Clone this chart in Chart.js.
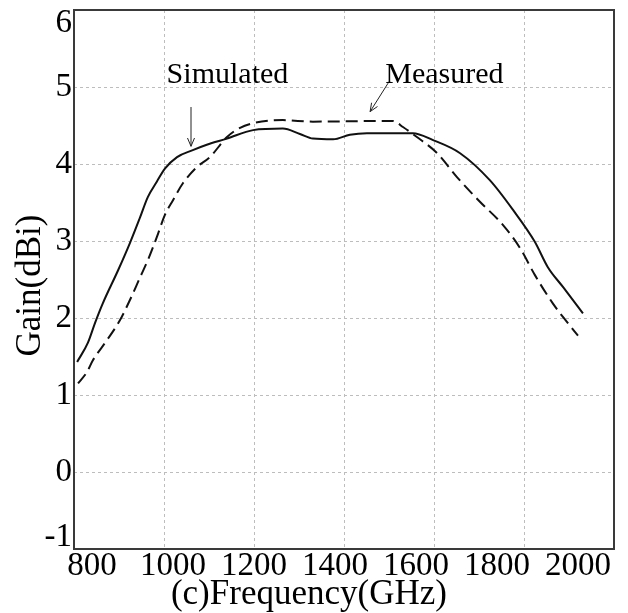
<!DOCTYPE html>
<html>
<head>
<meta charset="utf-8">
<script src="https://cdn.jsdelivr.net/npm/chart.js@4/dist/chart.umd.min.js"></script>
<style>
  body { margin: 0; background: #fff; }
  canvas { display: block; }
</style>
</head>
<body>
<canvas id="gainChart" width="628" height="613"></canvas>
<script>
// frekvens / förstärkning
const simFreq = [807, 831, 847, 864, 898, 924, 947, 964, 984, 1002, 1029, 1064, 1095, 1140, 1198, 1264, 1302, 1331, 1376, 1413, 1451, 1553, 1598, 1658, 1724, 1776, 1824, 1853, 1887, 1931];
const simGain = [1.43, 1.68, 1.94, 2.19, 2.62, 2.97, 3.31, 3.57, 3.77, 3.94, 4.09, 4.18, 4.25, 4.33, 4.44, 4.46, 4.39, 4.33, 4.32, 4.38, 4.40, 4.40, 4.31, 4.14, 3.79, 3.40, 2.99, 2.66, 2.40, 2.06];

const measFreq = [809, 829, 842, 873, 902, 924, 947, 964, 984, 1002, 1020, 1042, 1073, 1102, 1140, 1169, 1198, 1264, 1331, 1509, 1531, 1562, 1607, 1651, 1702, 1753, 1791, 1824, 1864, 1898, 1920];
const measGain = [1.15, 1.30, 1.45, 1.71, 1.97, 2.23, 2.53, 2.75, 3.05, 3.34, 3.53, 3.75, 3.96, 4.09, 4.35, 4.47, 4.53, 4.57, 4.55, 4.56, 4.48, 4.35, 4.14, 3.83, 3.51, 3.21, 2.91, 2.56, 2.19, 1.93, 1.77];

const xTicks = [800, 1000, 1200, 1400, 1600, 1800, 2000];
const yTicks = [-1, 0, 1, 2, 3, 4, 5, 6];

const xTitle = "(c)Frequency(GHz)";
const yTitle = "Gain(dBi)";

// pilar + text (i dataenheter)
const annotations = [
  { text: "Simulated", at: [1141, 5.05], from: [1060, 4.74], to: [1060, 4.23] },
  { text: "Measured", at: [1623, 5.05], from: [1498, 5.05], to: [1458, 4.68] },
];

const serif = '"Liberation Serif", "Times New Roman", serif';

const toPoints = (xs, ys) => xs.map((x, i) => ({ x: x, y: ys[i] }));

const datasets = [
  {
    label: "Simulated",
    data: toPoints(simFreq, simGain),
    borderColor: "#111",
    borderWidth: 2,
    pointRadius: 0,
    cubicInterpolationMode: "monotone",
  },
  {
    label: "Measured",
    data: toPoints(measFreq, measGain),
    borderColor: "#111",
    borderWidth: 2,
    borderDash: [12, 6],
    pointRadius: 0,
    cubicInterpolationMode: "monotone",
  },
];

function arrow(ctx, x1, y1, x2, y2) {
  const a = Math.atan2(y2 - y1, x2 - x1);
  const len = 9;
  ctx.beginPath();
  ctx.moveTo(x1, y1);
  ctx.lineTo(x2, y2);
  ctx.moveTo(x2 - len * Math.cos(a - 0.4), y2 - len * Math.sin(a - 0.4));
  ctx.lineTo(x2, y2);
  ctx.lineTo(x2 - len * Math.cos(a + 0.4), y2 - len * Math.sin(a + 0.4));
  ctx.stroke();
}

// ram, ticketiketter, axeltitlar och annoteringar
const drawExtras = {
  id: "drawExtras",
  afterDraw(chart) {
    const ctx = chart.ctx;
    const area = chart.chartArea;
    const xs = chart.scales.x;
    const ys = chart.scales.y;
    ctx.save();

    ctx.strokeStyle = "#3a3a3a";
    ctx.lineWidth = 2;
    ctx.strokeRect(area.left, area.top, area.right - area.left, area.bottom - area.top);

    ctx.fillStyle = "#000";
    ctx.font = "33px " + serif;

    // y-etiketter
    ctx.textAlign = "right";
    ctx.textBaseline = "middle";
    yTicks.forEach((v) => {
      let y = ys.getPixelForValue(v);
      y = Math.min(Math.max(y, area.top + 13), area.bottom - 12);
      ctx.fillText(String(v), area.left - 2, y);
    });

    // x-etiketter (lite hoptryckta som i originalet)
    ctx.textAlign = "center";
    xTicks.forEach((v) => {
      const px = xs.getPixelForValue(v);
      const x = area.left + 18 + (px - area.left) * 0.9;
      ctx.fillText(String(v), x, area.bottom + 17);
    });

    // axeltitlar
    ctx.font = "35px " + serif;
    ctx.textBaseline = "alphabetic";
    ctx.fillText(xTitle, area.left + (area.right - area.left) * 0.435, area.bottom + 55);

    ctx.save();
    ctx.translate(40, (area.top + area.bottom) / 2 + 6);
    ctx.rotate(-Math.PI / 2);
    ctx.textAlign = "center";
    ctx.fillText(yTitle, 0, 0);
    ctx.restore();

    // annoteringar
    ctx.font = "30px " + serif;
    ctx.strokeStyle = "#222";
    ctx.lineWidth = 1;
    annotations.forEach((a) => {
      ctx.fillText(a.text, xs.getPixelForValue(a.at[0]), ys.getPixelForValue(a.at[1]));
      arrow(
        ctx,
        xs.getPixelForValue(a.from[0]), ys.getPixelForValue(a.from[1]),
        xs.getPixelForValue(a.to[0]), ys.getPixelForValue(a.to[1])
      );
    });

    ctx.restore();
  },
};

const gridStyle = {
  color: "#bdbdbd",
  lineWidth: 1,
  drawTicks: false,
};

const config = {
  type: "line",
  data: { datasets },
  options: {
    responsive: false,
    animation: false,
    devicePixelRatio: 1,
    layout: { padding: { left: 0, top: 10, right: 14, bottom: 0 } },
    plugins: { legend: { display: false }, tooltip: { enabled: false } },
    scales: {
      x: {
        type: "linear",
        min: 800,
        max: 2000,
        ticks: { stepSize: 200, display: false },
        grid: gridStyle,
        border: { display: false, dash: [3, 3] },
        afterFit: (scale) => { scale.height = 64; },
      },
      y: {
        type: "linear",
        min: -1,
        max: 6,
        ticks: { stepSize: 1, display: false },
        grid: gridStyle,
        border: { display: false, dash: [3, 3] },
        afterFit: (scale) => { scale.width = 74; },
      },
    },
  },
  plugins: [drawExtras],
};

const canvas = document.getElementById("gainChart");
const gainChart = new Chart(canvas, config);
</script>
</body>
</html>
